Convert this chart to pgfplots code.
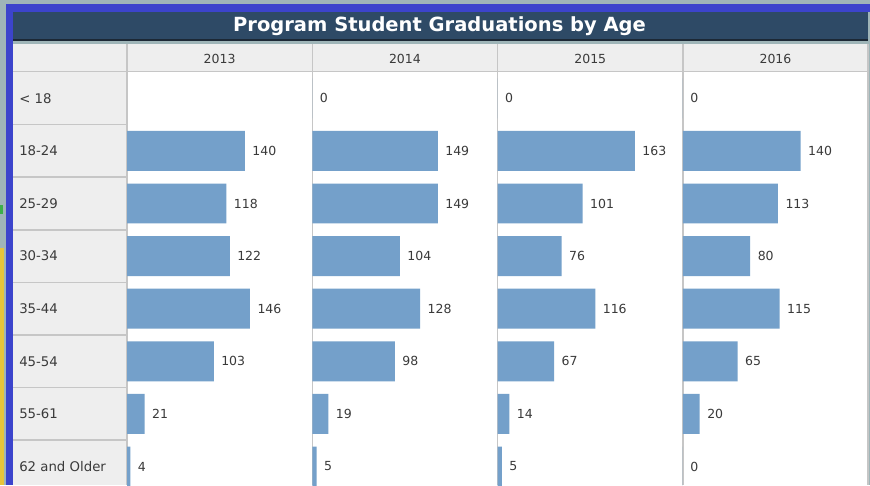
\documentclass[border=0pt]{standalone}
\usepackage{fontspec}
\setmainfont{DejaVu Sans}
\usepackage{pgfplots}
\pgfplotsset{compat=1.18}

\definecolor{bg}{HTML}{9FB5B8}
\definecolor{frameblue}{HTML}{3C44CC}
\definecolor{titlebar}{HTML}{2E4A66}
\definecolor{titledark}{HTML}{1C2835}
\definecolor{cellgray}{HTML}{EEEEEE}
\definecolor{linegray}{HTML}{C6C6C6}
\definecolor{bar}{HTML}{74A0CA}
\definecolor{txt}{HTML}{3A3A3A}
\definecolor{yel}{HTML}{E8C43A}
\definecolor{grn}{HTML}{3CB04A}

\newcommand\labfont{\fontsize{12.5}{14}\selectfont}

\pgfplotsset{
  every axis title/.style={at={(0.5,1)}, anchor=center, yshift=13pt,
    font=\fontsize{12.5}{14}\selectfont, text=txt},
  panel/.style={
    xbar, scale only axis, width=185.3pt, height=413pt,
    xmin=0, xmax=220, ymin=-0.5, ymax=7.352, y dir=reverse,
    bar width=0.76,
    axis line style={draw=none}, tick style={draw=none},
    xtick=\empty, ytick=\empty,
    nodes near coords,
    nodes near coords style={font=\labfont, text=txt, anchor=west, xshift=4pt},
    /pgf/number format/assume math mode=true,
    clip=false,
  },
}

\begin{document}
\begin{tikzpicture}
\useasboundingbox (0,0) rectangle (870pt,485pt);
\begin{scope}[shift={(0,485pt)}, x=1pt, y=1pt, yscale=-1]
  \fill[bg] (0,0) rectangle (870,485);
  \fill[yel] (0,248) rectangle (4,485);
  \fill[grn] (0,205) rectangle (3,214);
  \fill[frameblue] (6,4) rectangle (870,12);
  \fill[frameblue] (6,4) rectangle (13,485);
  \fill[titlebar] (13,12) rectangle (868,39);
  \fill[titledark] (13,39) rectangle (868,41);
  \fill[cellgray] (13,44) rectangle (868,72);
  \fill[cellgray] (13,72) rectangle (127,485);
  \fill[white] (127,72) rectangle (868,485);
  % row separators in the label column
  \foreach \y in {124.6,177.2,229.8,282.4,335,387.6,440.2}
    \draw[linegray, line width=1.5] (13,\y) -- (127,\y);
  \draw[linegray, line width=1.5] (13,71.5) -- (868,71.5);
  \foreach \x in {127,312.3,497.6,682.9}
    \draw[linegray, line width=1.2] (\x,44) -- (\x,485);
  \draw[linegray, line width=1.2] (868,44) -- (868,485);
  \node[text=white, font=\bfseries\fontsize{19.5}{22}\selectfont] at (439.5,26) {Program Student Graduations by Age};
\end{scope}

\begin{axis}[panel, at={(127pt,0pt)}, anchor=south west, title={2013},
  ytick={0,...,7},
  yticklabels={< 18, 18-24, 25-29, 30-34, 35-44, 45-54, 55-61, 62 and Older},
  yticklabel style={anchor=west, xshift=-107pt, font=\fontsize{13.3}{15}\selectfont, text=txt}]
\addplot[fill=bar, draw=none] coordinates {(140,1) (118,2) (122,3) (146,4) (103,5) (21,6) (4,7)};
\end{axis}

\begin{axis}[panel, at={(312.3pt,0pt)}, anchor=south west, title={2014}]
\addplot[fill=bar, draw=none] coordinates {(0,0) (149,1) (149,2) (104,3) (128,4) (98,5) (19,6) (5,7)};
\end{axis}

\begin{axis}[panel, at={(497.6pt,0pt)}, anchor=south west, title={2015}]
\addplot[fill=bar, draw=none] coordinates {(0,0) (163,1) (101,2) (76,3) (116,4) (67,5) (14,6) (5,7)};
\end{axis}

\begin{axis}[panel, at={(682.9pt,0pt)}, anchor=south west, title={2016}, width=185.1pt]
\addplot[fill=bar, draw=none] coordinates {(0,0) (140,1) (113,2) (80,3) (115,4) (65,5) (20,6) (0,7)};
\end{axis}
\end{tikzpicture}
\end{document}
